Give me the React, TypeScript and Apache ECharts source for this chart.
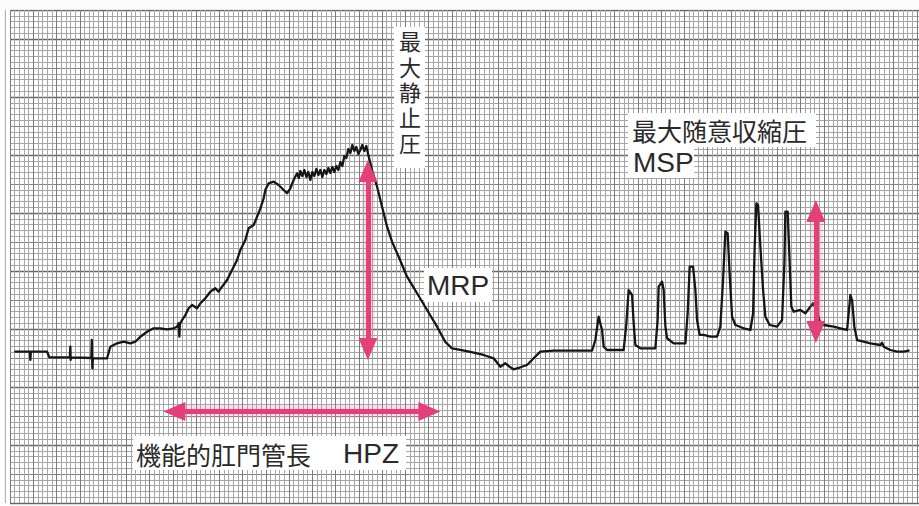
import React, { useEffect, useRef } from "react";
import * as echarts from "echarts";

// Trace values in chart-paper units (x: small divisions, y: small divisions)
const restSegment: [number, number][] = [
  [1.15, 26.09], [4.27, 26.09], [4.38, 24.66], [4.48, 26.09], [7.97, 26.09], [8.46, 25.12],
  [12.87, 25.12], [12.98, 26.95], [13.04, 24.66], [13.11, 25.12], [17.49, 25.0], [17.6, 28.1],
  [17.71, 23.22], [17.82, 24.95], [20.87, 24.95], [21.58, 26.95], [23.02, 27.53], [24.44, 27.81],
  [25.88, 27.53], [26.96, 27.81], [28.03, 28.67], [29.47, 29.53], [30.89, 30.12], [32.33, 30.12],
  [33.77, 29.95], [35.19, 30.12], [35.92, 30.4], [36.27, 30.98], [36.42, 28.67], [36.53, 30.86],
  [37.0, 31.55], [37.71, 32.41], [38.42, 33.57], [39.15, 34.14], [40.23, 33.57], [40.94, 34.43],
  [42.01, 35.29], [43.09, 36.43], [44.16, 37.02], [44.87, 36.43], [45.6, 37.29], [46.68, 38.45],
  [47.75, 40.17], [48.83, 41.9], [49.54, 43.62], [50.61, 45.34], [51.32, 47.36], [52.4, 47.93],
  [53.13, 49.36], [53.84, 50.81], [54.55, 52.53], [54.91, 53.97], [55.62, 55.12], [56.7, 55.4],
  [57.77, 54.83], [58.85, 53.97], [59.58, 53.4], [60.29, 54.26], [61.0, 55.69],
];

const plateauSegment: [number, number][] = [
  [61.73, 56.84], [62.12, 56.03], [62.44, 57.24], [62.87, 56.38], [63.3, 57.41], [63.73, 56.21],
  [64.16, 57.07], [64.59, 55.69], [65.02, 57.07], [65.45, 56.38], [65.88, 57.59], [66.31, 56.55],
  [66.74, 57.41], [67.17, 56.21], [67.6, 57.41], [68.03, 56.72], [68.46, 57.76], [68.89, 56.9],
  [69.32, 57.93], [69.75, 57.07], [70.18, 58.1], [70.61, 57.41], [71.04, 58.79], [71.47, 58.1],
  [71.9, 59.83], [72.33, 59.48], [72.76, 61.03], [73.19, 60.34], [73.62, 61.72], [74.05, 60.69],
  [74.48, 61.38], [74.91, 60.17], [75.34, 60.86], [75.77, 61.72], [76.2, 60.69], [76.63, 61.55],
  [77.06, 60.0], [77.86, 57.41],
];

const relaxSegment: [number, number][] = [
  [78.94, 54.53], [80.01, 51.09], [81.09, 47.64], [82.16, 45.05], [83.58, 42.47], [85.39, 39.02],
  [87.54, 36.16], [89.69, 33.28], [91.84, 30.4], [93.62, 27.76], [95.06, 26.67], [96.85, 26.38],
  [99.71, 25.91], [101.86, 25.52], [104.01, 24.95], [105.45, 23.5], [106.53, 24.09], [107.6, 23.4],
  [108.31, 23.05], [109.75, 23.4], [111.19, 23.79], [112.61, 24.95], [114.05, 26.09], [116.91, 26.26],
  [121.22, 26.26], [125.17, 26.26],
];

const squeezeSegment: [number, number][] = [
  [125.88, 28.1], [126.59, 32.12], [127.32, 29.83], [127.67, 26.95], [128.4, 26.38], [131.97, 26.38],
  [132.55, 30.98], [133.04, 36.72], [133.77, 35.86], [134.12, 30.98], [134.48, 27.24], [135.56, 26.67],
  [138.78, 26.67], [139.28, 31.55], [139.49, 37.29], [140.23, 38.16], [140.57, 36.72], [140.94, 30.4],
  [141.3, 28.4], [142.72, 27.53], [145.24, 27.53], [145.73, 32.71], [146.16, 40.74], [146.89, 40.74],
  [147.39, 36.72], [147.75, 31.55], [148.31, 28.97], [149.17, 28.97], [150.61, 28.67], [152.05, 28.67],
  [152.76, 30.4], [153.34, 38.45], [153.84, 46.78], [154.33, 46.5], [154.76, 39.6], [155.28, 32.12],
  [155.99, 30.69], [157.77, 30.12], [159.22, 29.83], [159.8, 32.71], [160.14, 44.19], [160.51, 51.67],
  [160.87, 51.38], [161.37, 44.19], [161.95, 36.72], [162.44, 32.12], [163.37, 30.69], [164.96, 30.4],
  [166.03, 31.55], [166.53, 41.33], [166.74, 50.22], [167.24, 50.22], [167.67, 41.33], [168.03, 33.84],
  [168.53, 32.98], [169.97, 33.28], [171.04, 32.71], [172.12, 33.84], [172.7, 34.43], [173.19, 33.84],
  [174.27, 30.98], [174.98, 30.69], [177.13, 30.4], [178.57, 30.12], [180.01, 29.83], [180.35, 32.71],
  [180.72, 35.86], [181.09, 35.0], [181.58, 30.4], [182.16, 28.1], [183.58, 27.81], [185.02, 27.53],
  [187.17, 27.24], [187.54, 27.64], [187.88, 26.95], [189.33, 26.38], [190.77, 26.09], [192.18, 26.09],
  [193.26, 26.26],
];

// Annotation arrows (start, end) in chart units
const arrowMRP: [number, number][] = [[76.96, 57.24], [76.96, 26.55]];
const arrowHPZ: [number, number][] = [[35.34, 15.78], [90.18, 15.78]];
const arrowMSP: [number, number][] = [[173.3, 50.34], [173.3, 29.48]];

const X_MIN = 0;
const X_MAX = 195.48;
const Y_MIN = 0;
const Y_MAX = 85;

const PINK = "#e3407b";
const TEXT = "#2a2a2a";
const CJK = '"Noto Sans CJK JP", "Noto Sans CJK SC", sans-serif';
const LAT = '"Liberation Sans", Arial, sans-serif';
const LAT_CJK = '"Liberation Sans", "Noto Sans CJK JP", sans-serif';

export default function App() {
  const ref = useRef<HTMLDivElement>(null);
  useEffect(() => {
    document.body.style.margin = "0";
    if (!ref.current) return;
    const chart = echarts.init(ref.current, undefined, { renderer: "svg" });
    const trace = [...restSegment, ...plateauSegment, ...relaxSegment, ...squeezeSegment];
    const hidden = { show: false };
    const xBase = {
      type: "value" as const,
      min: X_MIN,
      max: X_MAX,
      axisLine: hidden,
      axisTick: hidden,
      axisLabel: hidden,
    };
    const yBase = {
      type: "value" as const,
      min: Y_MIN,
      max: Y_MAX,
      axisLine: hidden,
      axisTick: hidden,
      axisLabel: hidden,
    };
    const toLine = (a: [number, number][]) => [{ coord: a[0] }, { coord: a[1] }];
    const arrows = [toLine(arrowMRP), toLine(arrowHPZ), toLine(arrowMSP)];
    chart.setOption({
      animation: false,
      backgroundColor: "#ffffff",
      grid: { left: 10, top: 10, width: 909, height: 493 },
      xAxis: [
        {
          ...xBase,
          interval: 5,
          splitLine: { show: true, lineStyle: { color: "#7c7c7c", width: 1 } },
          minorTick: { show: false, splitNumber: 5 },
          minorSplitLine: { show: true, lineStyle: { color: "#a6a6a6", width: 1 } },
        },
      ],
      yAxis: [
        {
          ...yBase,
          interval: 5,
          splitLine: { show: true, lineStyle: { color: "#828282", width: 1 } },
          minorTick: { show: false, splitNumber: 5 },
          minorSplitLine: { show: true, lineStyle: { color: "#a6a6a6", width: 1 } },
        },
        {
          ...yBase,
          interval: 10,
          splitLine: { show: true, lineStyle: { color: "#666666", width: 1.3 } },
        },
      ],
      series: [
        {
          type: "line",
          xAxisIndex: 0,
          yAxisIndex: 0,
          data: [],
          silent: true,
          markLine: {
            silent: true,
            symbol: ["none", "none"],
            label: { show: false },
            emphasis: { disabled: true },
            lineStyle: { color: "rgba(240,120,170,0.22)", width: 13, type: "solid" },
            data: arrows,
          },
        },
        {
          type: "line",
          xAxisIndex: 0,
          yAxisIndex: 0,
          data: trace,
          showSymbol: false,
          symbol: "none",
          silent: true,
          lineStyle: { color: "#161616", width: 2.3, join: "round", cap: "round" },
          markLine: {
            silent: true,
            symbol: ["triangle", "triangle"],
            symbolSize: [19, 22],
            label: { show: false },
            emphasis: { disabled: true },
            lineStyle: { color: PINK, width: 5, type: "solid", opacity: 1 },
            data: arrows,
          },
        },
      ],
      graphic: [
        { type: "rect", z: 100, shape: { x: 0, y: 0, width: 919, height: 9.5 }, style: { fill: "#fbfbfb" } },
        { type: "line", z: 0, shape: { x1: 5.35, y1: 10, x2: 5.35, y2: 503 }, style: { stroke: "#a6a6a6", lineWidth: 1 } },
        { type: "rect", z: 101, shape: { x: 394, y: 27, width: 31, height: 141 }, style: { fill: "#ffffff" } },
        {
          type: "text", z: 102, x: 410, y: 30,
          style: { text: "最\n大\n静\n止\n圧", font: `22px ${LAT_CJK}`, fill: TEXT, lineHeight: 25.4, align: "center", textAlign: "center", verticalAlign: "top", textVerticalAlign: "top" },
        },
        { type: "rect", z: 101, shape: { x: 424, y: 268, width: 68, height: 34 }, style: { fill: "#ffffff" } },
        {
          type: "text", z: 102, x: 427, y: 285.5,
          style: { text: "MRP", font: `28px ${LAT}`, fill: TEXT, align: "left", textAlign: "left", verticalAlign: "middle", textVerticalAlign: "middle" },
        },
        { type: "rect", z: 101, shape: { x: 628, y: 113, width: 188, height: 34 }, style: { fill: "#ffffff" } },
        {
          type: "text", z: 102, x: 632, y: 130,
          style: { text: "最大随意収縮圧", font: `25px ${CJK}`, fill: TEXT, align: "left", textAlign: "left", verticalAlign: "middle", textVerticalAlign: "middle" },
        },
        { type: "rect", z: 101, shape: { x: 628, y: 147, width: 66, height: 31 }, style: { fill: "#ffffff" } },
        {
          type: "text", z: 102, x: 633, y: 162,
          style: { text: "MSP", font: `28px ${LAT}`, fill: TEXT, align: "left", textAlign: "left", verticalAlign: "middle", textVerticalAlign: "middle" },
        },
        { type: "rect", z: 101, shape: { x: 133, y: 436, width: 273, height: 34 }, style: { fill: "#ffffff" } },
        {
          type: "text", z: 102, x: 136, y: 453.5,
          style: { text: "機能的肛門管長", font: `25px ${CJK}`, fill: TEXT, align: "left", textAlign: "left", verticalAlign: "middle", textVerticalAlign: "middle" },
        },
        {
          type: "text", z: 102, x: 343, y: 453.5,
          style: { text: "HPZ", font: `28px ${LAT}`, fill: TEXT, align: "left", textAlign: "left", verticalAlign: "middle", textVerticalAlign: "middle" },
        },
      ],
    });
    return () => chart.dispose();
  }, []);
  return (
    <div
      ref={ref}
      style={{ position: "absolute", left: 0, top: 0, width: 919, height: 506, background: "#fff" }}
    />
  );
}
